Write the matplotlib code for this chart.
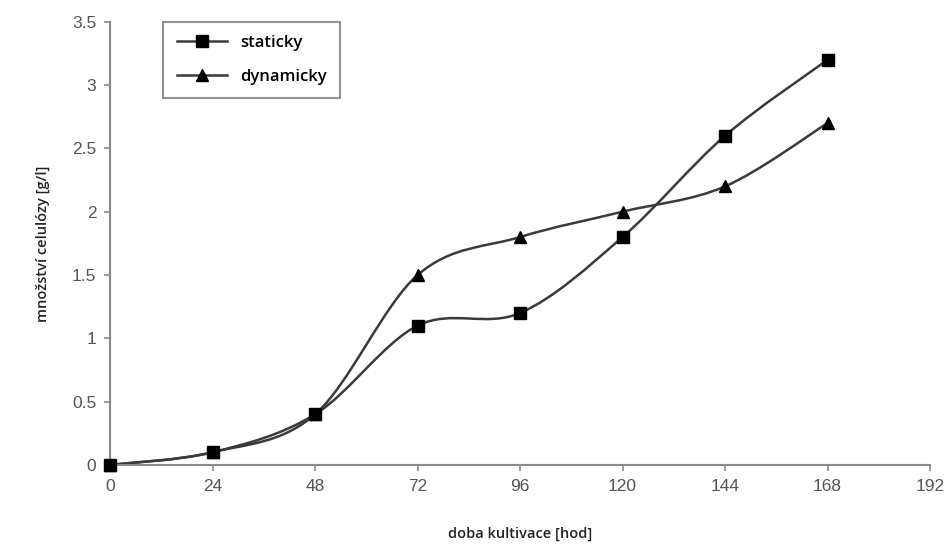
import numpy as np
import matplotlib.pyplot as plt
from matplotlib.path import Path
from matplotlib.patches import PathPatch
from matplotlib.lines import Line2D

# data
hours = [0, 24, 48, 72, 96, 120, 144, 168]
staticky = [0, 0.1, 0.4, 1.1, 1.2, 1.8, 2.6, 3.2]
dynamicky = [0, 0.1, 0.4, 1.5, 1.8, 2.0, 2.2, 2.7]
xticks = [0, 24, 48, 72, 96, 120, 144, 168, 192]
yticks = [0, 0.5, 1, 1.5, 2, 2.5, 3, 3.5]
ytick_labels = ['0', '0.5', '1', '1.5', '2', '2.5', '3', '3.5']


def smooth_path(x, y):
    # Excel-like smoothed line: Catmull-Rom segments as cubic Bezier
    p = np.column_stack([x, y]).astype(float)
    verts = [p[0]]
    codes = [Path.MOVETO]
    n = len(p)
    for i in range(n - 1):
        p0 = p[i - 1] if i > 0 else p[i]
        p1 = p[i]
        p2 = p[i + 1]
        p3 = p[i + 2] if i + 2 < n else p[i + 1]
        c1 = p1 + (p2 - p0) / 6.0
        c2 = p2 - (p3 - p1) / 6.0
        verts += [c1, c2, p2]
        codes += [Path.CURVE4] * 3
    return Path(verts, codes)


fig = plt.figure(figsize=(9.5, 5.45), dpi=100)
ax = fig.add_axes([0.116, 0.147, 0.863, 0.813])

line_col = '#3a3a3a'
for ys, mk, ms in [(staticky, 's', 9), (dynamicky, '^', 8)]:
    ax.add_patch(PathPatch(smooth_path(hours, ys), facecolor='none',
                           edgecolor=line_col, lw=1.8, zorder=2))
    ax.plot(hours, ys, linestyle='none', marker=mk, ms=ms, color='black',
            zorder=3, clip_on=False)

ax.set_xlim(0, 192)
ax.set_ylim(0, 3.5)
ax.set_xticks(xticks)
ax.set_yticks(yticks)
ax.set_yticklabels(ytick_labels)

for s in ['top', 'right']:
    ax.spines[s].set_visible(False)
for s in ['left', 'bottom']:
    ax.spines[s].set_color('#8a8a8a')
    ax.spines[s].set_linewidth(1.5)
ax.tick_params(colors='#8a8a8a', length=4, width=1.2, labelsize=12.5,
               labelcolor='#555555', pad=6)
for lab in ax.get_xticklabels() + ax.get_yticklabels():
    lab.set_family('Liberation Sans')

ax.set_xlabel('doba kultivace [hod]', family='Open Sans', fontsize=10.5,
              fontweight='semibold', labelpad=24, color='#222222')
ax.set_ylabel('množství celulózy [g/l]', family='Open Sans', fontsize=10.5,
              fontweight='semibold', labelpad=16, color='#222222')

handles = [Line2D([], [], color=line_col, lw=1.8, marker='s', ms=9, mfc='black', mec='black'),
           Line2D([], [], color=line_col, lw=1.8, marker='^', ms=8, mfc='black', mec='black')]
leg = ax.legend(handles, ['staticky', 'dynamicky'], loc='upper left',
                bbox_to_anchor=(0.065, 1.0), borderaxespad=0, fancybox=False,
                frameon=True,
                prop={'family': 'Open Sans', 'size': 12, 'weight': 'semibold'},
                handlelength=3, borderpad=0.8, labelspacing=1.05)
leg.get_frame().set_edgecolor('#777777')
leg.get_frame().set_linewidth(1.5)

fig.savefig('out.png', dpi=100)
